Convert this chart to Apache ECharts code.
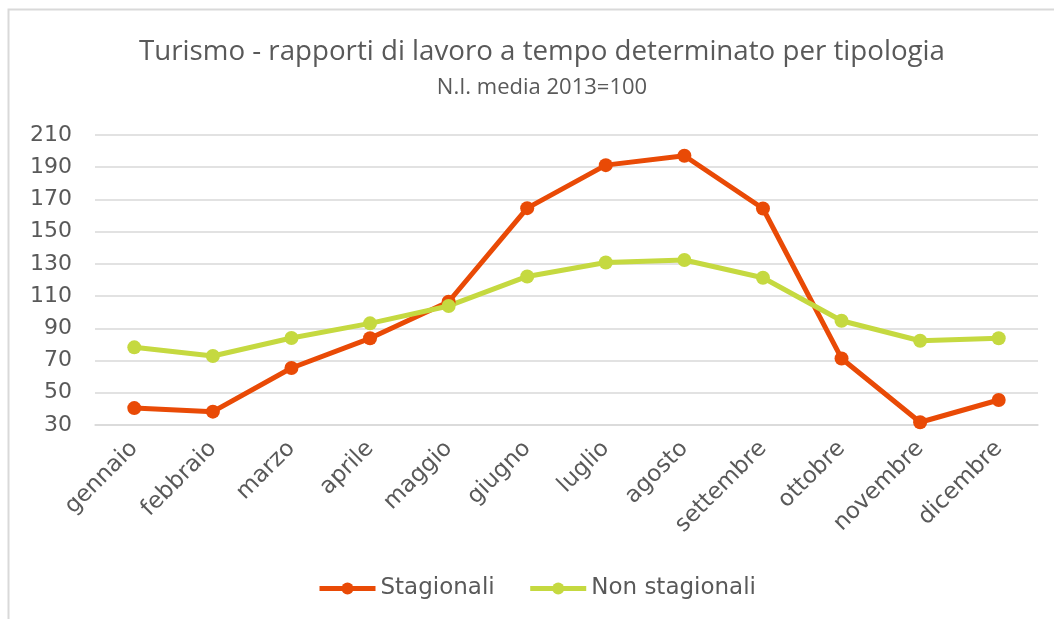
<!DOCTYPE html>
<html>
<head>
<meta charset="utf-8">
<script src="https://cdn.jsdelivr.net/npm/echarts@6/dist/echarts.min.js"></script>
<style>
  html, body { margin: 0; padding: 0; background: #fff; }
  #chart { width: 1054px; height: 619px; }
</style>
</head>
<body>
<div id="chart"></div>
<script>
// mesi
const months = ["gennaio", "febbraio", "marzo", "aprile", "maggio", "giugno",
  "luglio", "agosto", "settembre", "ottobre", "novembre", "dicembre"];
// N.I. media 2013=100
const stagionali = [40.5, 38.3, 65.4, 83.8, 106.5, 164.6, 191.3, 197.1, 164.4, 71.3, 31.7, 45.5];
const nonStagionali = [78.2, 72.8, 84.0, 93.1, 103.9, 122.2, 130.9, 132.4, 121.4, 94.7, 82.3, 83.8];

const textColor = "#595959";
const titleFont = "'Open Sans', 'Noto Sans', sans-serif";
const axisFont = "'DejaVu Sans', Verdana, sans-serif";

const chart = echarts.init(document.getElementById("chart"));
let option = {
  animation: false,
  textStyle: { fontFamily: axisFont },
  graphic: [
    {
      // cornice del grafico
      type: "rect",
      shape: { x: 8.5, y: 9.5, width: 1200, height: 800 },
      style: { fill: "none", stroke: "#d9d9d9", lineWidth: 2 },
      silent: true,
    },
  ],
  title: {
    text: "Turismo - rapporti di lavoro a tempo determinato per tipologia",
    subtext: "N.I. media 2013=100",
    left: 537,
    textAlign: "center",
    top: 33,
    itemGap: 11,
    textStyle: { fontSize: 27.7, fontWeight: "normal", color: textColor, fontFamily: titleFont },
    subtextStyle: { fontSize: 22, color: textColor, fontFamily: titleFont },
  },
  legend: {
    top: 572,
    left: 312,
    itemWidth: 56,
    itemHeight: 15,
    itemGap: 33,
    lineStyle: { width: 5 },
    textStyle: { fontSize: 23, color: textColor, fontFamily: axisFont },
    data: ["Stagionali", "Non stagionali"],
  },
  grid: {
    left: 95,
    right: 16,
    top: 135,
    bottom: 194,
  },
  xAxis: {
    type: "category",
    boundaryGap: true,
    data: months,
    axisLine: { lineStyle: { color: "#d9d9d9", width: 1.5 } },
    axisTick: { show: false },
    axisLabel: { rotate: 45, fontSize: 23, color: textColor, margin: 20, fontFamily: axisFont },
  },
  yAxis: {
    type: "value",
    min: 30,
    max: 210,
    interval: 20,
    axisLine: { show: false },
    axisTick: { show: false },
    axisLabel: { fontSize: 22, color: textColor, margin: 23, fontFamily: axisFont },
    splitLine: { lineStyle: { color: "#d9d9d9", width: 1.5 } },
  },
  series: [
    {
      name: "Stagionali",
      type: "line",
      symbol: "circle",
      symbolSize: 14,
      lineStyle: { width: 5, color: "#e94a06" },
      itemStyle: { color: "#e94a06" },
      data: stagionali,
    },
    {
      name: "Non stagionali",
      type: "line",
      symbol: "circle",
      symbolSize: 14,
      lineStyle: { width: 5, color: "#c5d940" },
      itemStyle: { color: "#c5d940" },
      data: nonStagionali,
    },
  ],
};
chart.setOption(option, true);
</script>
</body>
</html>
